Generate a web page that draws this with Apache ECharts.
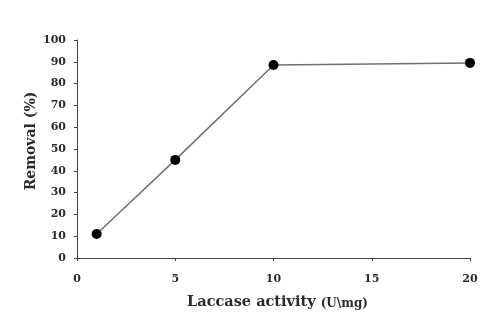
<!DOCTYPE html>
<html>
<head>
<meta charset="utf-8">
<script src="https://cdn.jsdelivr.net/npm/echarts@6/dist/echarts.min.js"></script>
<style>
html,body{margin:0;padding:0;background:#fff;}
#chart{width:488px;height:322px;}
</style>
</head>
<body>
<div id="chart"></div>
<script>
// Laccase activity (U\mg) vs. removal (%)
const activity = [1, 5, 10, 20];
const removal = [11, 45, 88.5, 89.5];
const xTicks = [0, 5, 10, 15, 20];
const yTicks = [0, 10, 20, 30, 40, 50, 60, 70, 80, 90, 100];

const serif = '"DejaVu Serif", "Liberation Serif", serif';
const ink = '#2b2b2b';
const chart = echarts.init(document.getElementById('chart'));
chart.setOption({
  animation: false,
  backgroundColor: '#fff',
  grid: { left: 77, right: 18, top: 40, bottom: 64 },
  xAxis: {
    type: 'value',
    min: xTicks[0], max: xTicks[xTicks.length - 1], interval: 5,
    name: '{a|Laccase activity }{b|(U\\mg)}',
    nameLocation: 'middle', nameGap: 37,
    nameTextStyle: {
      padding: [0, 0, 0, 8],
      rich: {
        a: { fontFamily: serif, fontWeight: 'bold', fontSize: 14.5, color: ink },
        b: { fontFamily: serif, fontWeight: 'bold', fontSize: 12, color: ink, padding: [3, 0, 0, 0] }
      }
    },
    axisLine: { lineStyle: { color: '#444', width: 1 } },
    axisTick: { show: true, length: 3, inside: false, lineStyle: { color: '#444' } },
    axisLabel: { fontFamily: serif, fontWeight: 'bold', fontSize: 11, color: ink, margin: 16 },
    splitLine: { show: false }
  },
  yAxis: {
    type: 'value',
    min: yTicks[0], max: yTicks[yTicks.length - 1], interval: 10,
    name: 'Removal (%)',
    nameLocation: 'middle', nameGap: 39, nameRotate: 90,
    nameMoveOverlap: false,
    nameTextStyle: { fontFamily: serif, fontWeight: 'bold', fontSize: 14, color: ink, padding: [0, 0, 0, 16] },
    axisLine: { show: true, lineStyle: { color: '#444', width: 1 } },
    axisTick: { show: true, length: 3, inside: false, lineStyle: { color: '#444' } },
    axisLabel: { fontFamily: serif, fontWeight: 'bold', fontSize: 11, color: ink, margin: 11 },
    splitLine: { show: false }
  },
  series: [{
    type: 'line',
    data: activity.map((x, i) => [x, removal[i]]),
    symbol: 'circle',
    symbolSize: 10,
    itemStyle: { color: '#000' },
    lineStyle: { color: '#707070', width: 1.5 }
  }]
});
</script>
</body>
</html>
